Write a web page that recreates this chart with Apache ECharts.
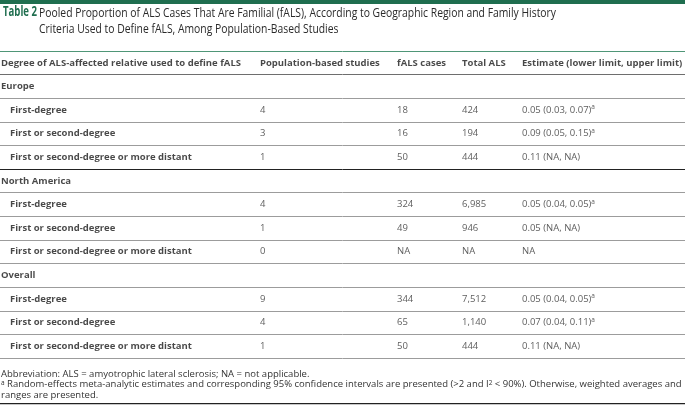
<!DOCTYPE html>
<html><head><meta charset="utf-8">
<script src="https://cdn.jsdelivr.net/npm/echarts@6/dist/echarts.min.js"></script>
<style>html,body{margin:0;padding:0;background:#fff}#c{width:685px;height:413px}</style>
</head><body><div id="c"></div>
<script>
// ---- data ----
const headers = ['Degree of ALS-affected relative used to define fALS','Population-based studies','fALS cases','Total ALS','Estimate (lower limit, upper limit)'];
const regions = ['Europe','North America','Overall'];
const criteria = ['First-degree','First or second-degree','First or second-degree or more distant'];
const studies = [[4,3,1],[4,1,0],[9,4,1]];
const fALSCases = [[18,16,50],[324,49,null],[344,65,50]];
const totalALS = [[424,194,444],[6985,946,null],[7512,1140,444]];
const estimate = [[0.05,0.09,0.11],[0.05,0.05,null],[0.05,0.07,0.11]];
const lowerLimit = [[0.03,0.05,null],[0.04,null,null],[0.04,0.04,null]];
const upperLimit = [[0.07,0.15,null],[0.05,null,null],[0.05,0.11,null]];
const randomEffects = [[true,true,false],[true,false,false],[true,true,false]];
const titleLabel = 'Table 2';
const titleLines = ['Pooled Proportion of ALS Cases That Are Familial (fALS), According to Geographic Region and Family History',
                    'Criteria Used to Define fALS, Among Population-Based Studies'];
const footLines = ['Abbreviation: ALS = amyotrophic lateral sclerosis; NA = not applicable.',
  '{s|a} Random-effects meta-analytic estimates and corresponding 95% confidence intervals are presented (>2 and I{s|2} < 90%). Otherwise, weighted averages and',
  'ranges are presented.'];

// ---- layout (not data) ----
const colX = [1, 260, 397, 462, 522];
const indentX = 10;
const W = 685, H = 413;
const GREEN = '#1f6e4f';
const BODY_FONT = '"Open Sans", sans-serif';
const FS = 9.5;

function measure(text, font) {
  const ctx = document.createElement('canvas').getContext('2d');
  ctx.font = font;
  return ctx.measureText(text).width;
}
const TITLE_FONT = '13.5px "Open Sans", sans-serif';
const TITLE_BOLD = 'bold 13.5px "Open Sans", sans-serif';
const titleScale = 517 / measure(titleLines[0], TITLE_FONT);
const labelScale = 34 / measure(titleLabel, TITLE_BOLD);

const fmtN = v => v == null ? 'NA' : v.toLocaleString('en-US');
const fmtE = v => v == null ? 'NA' : v.toFixed(2);

const headerData = [], groupData = [], critData = [], valData = [];
headers.forEach((h, i) => headerData.push({value: [colX[i], 0.5], name: h}));
let row = 1;
regions.forEach((r, gi) => {
  groupData.push({value: [colX[0], row + 0.5], name: r});
  row++;
  criteria.forEach((c, ci) => {
    const y = row + 0.5;
    critData.push({value: [indentX, y], name: c});
    valData.push({value: [colX[1], y], name: String(studies[gi][ci])});
    valData.push({value: [colX[2], y], name: fmtN(fALSCases[gi][ci])});
    valData.push({value: [colX[3], y], name: fmtN(totalALS[gi][ci])});
    let est;
    if (estimate[gi][ci] == null) est = 'NA';
    else est = fmtE(estimate[gi][ci]) + ' (' + fmtE(lowerLimit[gi][ci]) + ', ' + fmtE(upperLimit[gi][ci]) + ')' + (randomEffects[gi][ci] ? '{sup|a}' : '');
    valData.push({value: [colX[4], y], name: est});
    row++;
  });
});
const nRows = row;

function textSeries(data, weight, color) {
  return {
    type: 'scatter', symbolSize: 0, data: data, silent: true,
    label: {
      show: true, position: 'right', distance: 0,
      formatter: p => p.name,
      fontFamily: BODY_FONT, fontSize: FS, fontWeight: weight, color: color,
      rich: { sup: { fontSize: 6.5, verticalAlign: 'top', color: color, fontFamily: BODY_FONT, padding: [0,0,5,0] } }
    }
  };
}

// line colours for each row boundary (0 = rule under title)
const lineColors = [];
for (let i = 0; i <= nRows; i++) lineColors.push('#9c9c9c');
lineColors[0] = '#4f9677';
lineColors[1] = '#6e6e6e';
lineColors[5] = '#222222';

const chart = echarts.init(document.getElementById('c'), null, {renderer: 'canvas'});
chart.setOption({
  animation: false,
  backgroundColor: '#fff',
  grid: {left: 0, right: 0, top: 51, bottom: H - 358},
  xAxis: {type: 'value', min: 0, max: W, show: false},
  yAxis: {type: 'value', min: 0, max: nRows, interval: 1, inverse: true,
    axisLine: {show: false}, axisTick: {show: false}, axisLabel: {show: false},
    splitLine: {show: true, lineStyle: {color: lineColors, width: 1}}},
  series: [
    textSeries(headerData, 'bold', '#1a1a1a'),
    textSeries(groupData, 'bold', '#1a1a1a'),
    textSeries(critData, 'bold', '#1a1a1a'),
    textSeries(valData, 'normal', '#333')
  ],
  graphic: [
    {type: 'rect', x: 0, y: 0, shape: {width: W, height: 4}, style: {fill: GREEN}},
    {type: 'text', x: 3, y: 5, scaleX: labelScale, style: {text: titleLabel, fill: GREEN, font: TITLE_BOLD, textVerticalAlign: 'top'}},
    {type: 'text', x: 39, y: 5, scaleX: titleScale, style: {text: titleLines.join('\n'), fill: '#2a2a2a', lineHeight: 16, font: TITLE_FONT, textVerticalAlign: 'top'}},
    {type: 'text', x: 1, y: 369, style: {
      text: footLines.join('\n'),
      fill: '#333', fontFamily: BODY_FONT, fontSize: FS, lineHeight: 10.5, textVerticalAlign: 'top',
      rich: {s: {fontSize: 6.5, verticalAlign: 'top', fill: '#333', fontFamily: BODY_FONT}}
    }},
    {type: 'rect', x: 0, y: 403, shape: {width: W, height: 1.2}, style: {fill: '#222'}}
  ]
});
</script></body></html>
